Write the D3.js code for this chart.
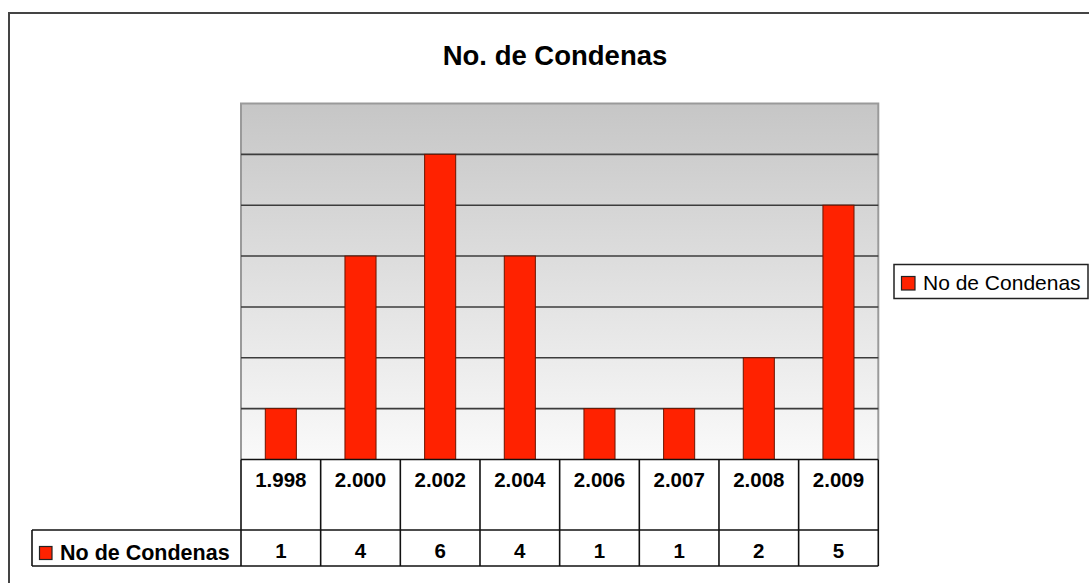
<!DOCTYPE html>
<html>
<head>
<meta charset="utf-8">
<script src="https://cdn.jsdelivr.net/npm/d3@7"></script>
<style>
  html, body { margin: 0; padding: 0; background: #fff; }
  svg { display: block; font-family: "Liberation Sans", Arial, sans-serif; }
</style>
</head>
<body>
<svg id="chart" width="1089" height="583"></svg>
<script>
const categories = ["1.998", "2.000", "2.002", "2.004", "2.006", "2.007", "2.008", "2.009"];
const values = [1, 4, 6, 4, 1, 1, 2, 5];
const seriesName = "No de Condenas";
const chartTitle = "No. de Condenas";
const yTicks = [0, 1, 2, 3, 4, 5, 6, 7];

const svg = d3.select("#chart");
const W = 1089, H = 583;
const plot = { left: 241, right: 878.3, top: 103.5, bottom: 459.5 };
const table = { rowCat: 530, rowVal: 566, headLeft: 32 };

const x = d3.scaleBand().domain(categories).range([plot.left, plot.right]).padding(0);
const y = d3.scaleLinear().domain([0, 7]).range([plot.bottom, plot.top]);

// outer frame
svg.append("rect").attr("x", 9).attr("y", 13).attr("width", W + 20).attr("height", H + 20)
  .attr("fill", "#fff").attr("stroke", "#444").attr("stroke-width", 2);

// title
svg.append("text").attr("x", 555).attr("y", 65).attr("text-anchor", "middle")
  .attr("font-size", 27.5).attr("font-weight", "bold").attr("fill", "#000").text(chartTitle);

// gradient background
const defs = svg.append("defs");
const grad = defs.append("linearGradient").attr("id", "bg").attr("x1", 0).attr("y1", 0).attr("x2", 0).attr("y2", 1);
grad.append("stop").attr("offset", "0%").attr("stop-color", "#c6c6c6");
grad.append("stop").attr("offset", "100%").attr("stop-color", "#fafafa");
svg.append("rect").attr("x", plot.left).attr("y", plot.top)
  .attr("width", plot.right - plot.left).attr("height", plot.bottom - plot.top)
  .attr("fill", "url(#bg)");

// plot border (gray)
svg.append("path")
  .attr("d", `M${plot.left},${plot.bottom}V${plot.top}H${plot.right}V${plot.bottom}`)
  .attr("fill", "none").attr("stroke", "#9a9a9a").attr("stroke-width", 2);

// gridlines
svg.append("g").selectAll("line").data(yTicks.filter(d => d > 0 && d < 7)).join("line")
  .attr("x1", plot.left).attr("x2", plot.right)
  .attr("y1", d => y(d)).attr("y2", d => y(d))
  .attr("stroke", "#3c3c3c").attr("stroke-width", 1.6);

// bars
const barW = x.bandwidth() * 0.39;
svg.append("g").selectAll("rect").data(values).join("rect")
  .attr("x", (d, i) => x(categories[i]) + (x.bandwidth() - barW) / 2)
  .attr("y", d => y(d))
  .attr("width", barW)
  .attr("height", d => y(0) - y(d))
  .attr("fill", "#ff2200").attr("stroke", "#6a1500").attr("stroke-width", 1);

// data table
const tg = svg.append("g").attr("stroke", "#111").attr("stroke-width", 1.6).attr("fill", "none");
tg.append("line").attr("x1", plot.left).attr("x2", plot.right).attr("y1", plot.bottom).attr("y2", plot.bottom);
tg.append("line").attr("x1", table.headLeft).attr("x2", plot.right).attr("y1", table.rowCat).attr("y2", table.rowCat);
tg.append("line").attr("x1", table.headLeft).attr("x2", plot.right).attr("y1", table.rowVal).attr("y2", table.rowVal);
tg.append("line").attr("x1", table.headLeft).attr("x2", table.headLeft).attr("y1", table.rowCat).attr("y2", table.rowVal);
const bounds = categories.map(c => x(c)).concat([plot.right]);
tg.selectAll("line.col").data(bounds).join("line").attr("class", "col")
  .attr("x1", d => d).attr("x2", d => d).attr("y1", plot.bottom).attr("y2", table.rowVal);

svg.append("g").selectAll("text").data(categories).join("text")
  .attr("x", d => x(d) + x.bandwidth() / 2).attr("y", 487)
  .attr("text-anchor", "middle").attr("font-size", 20.5).attr("font-weight", "bold")
  .attr("fill", "#000").text(d => d);

svg.append("g").selectAll("text").data(values).join("text")
  .attr("x", (d, i) => x(categories[i]) + x.bandwidth() / 2).attr("y", 558)
  .attr("text-anchor", "middle").attr("font-size", 20.5).attr("font-weight", "bold")
  .attr("fill", "#000").text(d => d);

// table header
svg.append("rect").attr("x", 39.5).attr("y", 546.5).attr("width", 12.5).attr("height", 13)
  .attr("fill", "#ff2200").attr("stroke", "#222").attr("stroke-width", 1.2);
svg.append("text").attr("x", 60).attr("y", 560).attr("font-size", 21.5).attr("font-weight", "bold")
  .attr("fill", "#000").text(seriesName);

// legend
svg.append("rect").attr("x", 894).attr("y", 264.5).attr("width", 194).attr("height", 34)
  .attr("fill", "#fff").attr("stroke", "#222").attr("stroke-width", 1.5);
svg.append("rect").attr("x", 901.5).attr("y", 276.5).attr("width", 13.5).attr("height", 13.5)
  .attr("fill", "#ff2200").attr("stroke", "#222").attr("stroke-width", 1.2);
svg.append("text").attr("x", 923).attr("y", 290).attr("font-size", 21)
  .attr("fill", "#000").text(seriesName);
</script>
</body>
</html>
